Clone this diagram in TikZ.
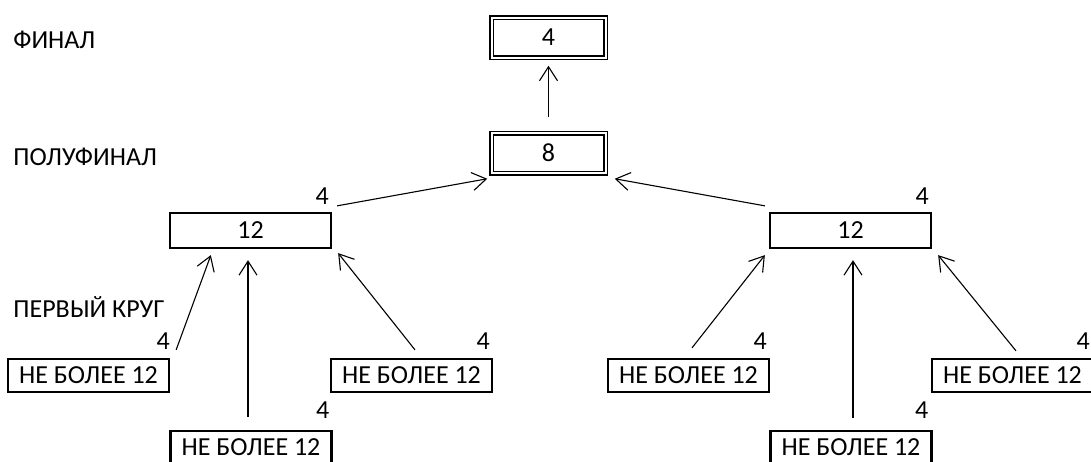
\documentclass[tikz,border=0pt]{standalone}
\usepackage{fontspec}
\setmainfont{Carlito}
\usetikzlibrary{arrows.meta}
\begin{document}
\begin{tikzpicture}[x=0.5pt,y=-0.5pt,
 every node/.style={font=\fontsize{13}{15}\selectfont},
 box/.style={draw,line width=1.15pt,minimum width=80.5pt,minimum height=16.5pt,inner sep=0pt},
 midbox/.style={box,minimum height=17.5pt},
 dbox/.style={draw,double,line width=0.75pt,double distance=1pt,minimum width=57pt,minimum height=20pt,inner sep=0pt},
 arr/.style={-{Straight Barb[length=7pt,width=9pt]},line width=0.55pt},
 num/.style={anchor=base east,inner sep=0pt},
 lab/.style={anchor=base west,inner sep=0pt}]
\useasboundingbox (0,0) rectangle (1091,461);

% level labels
\node[lab] (tF) at (13,48) {ФИНАЛ};
\node[lab] (tS) at (13,165) {ПОЛУФИНАЛ};
\node[lab] (tR) at (13,317) {ПЕРВЫЙ КРУГ};

% final and semifinal
\node[dbox] (F) at (548.5,37.5) {4};
\node[dbox] (S) at (548.5,153) {8};

% second level
\node[midbox] (L) at (250.5,230.5) {12};
\node[midbox] (R) at (850.5,230.5) {12};

% leaves
\node[box] (LL) at (88.5,375.5) {НЕ БОЛЕЕ 12};
\node[box] (LM) at (251,447.5) {НЕ БОЛЕЕ 12};
\node[box] (LR) at (411.5,375.5) {НЕ БОЛЕЕ 12};
\node[box] (RL) at (688.5,375.5) {НЕ БОЛЕЕ 12};
\node[box] (RM) at (851,447.5) {НЕ БОЛЕЕ 12};
\node[box] (RR) at (1012.5,375.5) {НЕ БОЛЕЕ 12};

% numbers
\node[num] (nL)  at ([shift={(-3,-7)}]L.north east) {4};
\node[num] (nR)  at ([shift={(-3,-7)}]R.north east) {4};
\node[num] (nLL) at ([shift={(0,-8)}]LL.north east) {4};
\node[num] (nLM) at ([shift={(-3,-11)}]LM.north east) {4};
\node[num] (nLR) at ([shift={(-3,-8)}]LR.north east) {4};
\node[num] (nRL) at ([shift={(-3,-8)}]RL.north east) {4};
\node[num] (nRM) at ([shift={(-4,-11)}]RM.north east) {4};
\node[num] (nRR) at ([shift={(-4,-8)}]RR.north east) {4};

% connectors
\draw[arr] ([shift={(0,-15)}]S.north) -- ([shift={(0,7.5)}]F.south);
\draw[arr] ([shift={(5,-6)}]L.north east) -- ([shift={(-3.5,5)}]S.south west);
\draw[arr] ([shift={(-4,-6)}]R.north west) -- ([shift={(8.5,5)}]S.south east);

\draw[arr] ([shift={(6,-8)}]LL.north east) -- ([shift={(42,6)}]L.south west);
\draw[arr] ([shift={(-3,-13)}]LM.north) -- ([shift={(-2.5,11)}]L.south);
\draw[arr] ([shift={(3.5,-8)}]LR.north) -- ([shift={(6,4)}]L.south east);

\draw[arr] ([shift={(3.5,-10)}]RL.north) -- ([shift={(-4,6)}]R.south west);
\draw[arr] ([shift={(2,-12)}]RM.north) -- ([shift={(2.5,11)}]R.south);
\draw[arr] ([shift={(3.5,-7)}]RR.north) -- ([shift={(6,6)}]R.south east);
\end{tikzpicture}
\end{document}
